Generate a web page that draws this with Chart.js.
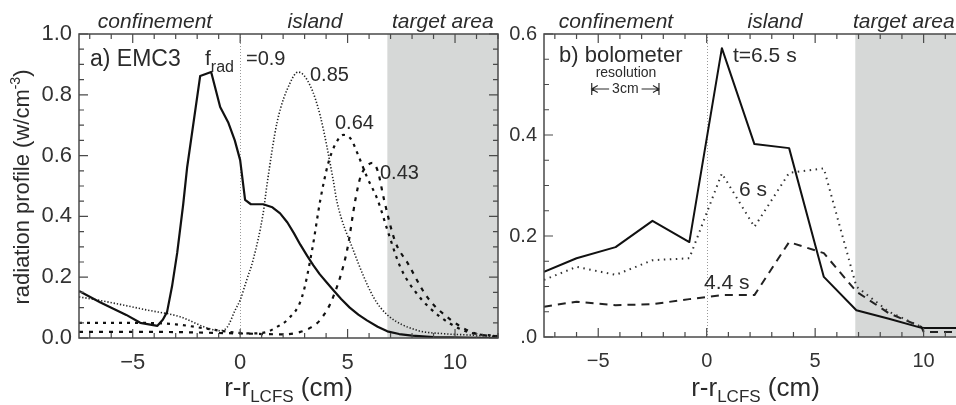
<!DOCTYPE html>
<html>
<head>
<meta charset="utf-8">
<script src="https://cdn.jsdelivr.net/npm/chart.js@4.4.1/dist/chart.umd.min.js"></script>
<style>
  html, body { margin: 0; padding: 0; background: #fff; overflow: hidden; width: 956px; height: 405px; }
  #wrap { position: relative; width: 956px; height: 405px; overflow: hidden; }
  canvas { position: absolute; top: 0; }
  #ca { left: 0; }
  #cb { left: 480px; }
</style>
</head>
<body>
<div id="wrap">
  <canvas id="ca" width="510" height="405"></canvas>
  <canvas id="cb" width="500" height="405"></canvas>
</div>
<script>
// ---- a) EMC3 radiation profiles, one per radiated fraction f_rad ----
const emc090X = [-7.5, -6.5, -5.3, -4.65, -3.85, -3.6, -3.4, -3.17, -2.93, -2.65, -2.47, -1.86, -1.35, -0.93, -0.56, -0.25, 0.0, 0.23, 0.5, 1.07, 1.5, 1.86, 2.2, 2.5, 2.8, 3.12, 3.4, 3.7, 4.0, 4.33, 4.7, 5.1, 5.5, 5.9, 6.4, 6.85, 7.4, 8.0, 9.0, 10.5, 12.0];
const emc090Y = [0.155, 0.117, 0.076, 0.05, 0.04, 0.06, 0.086, 0.17, 0.28, 0.44, 0.56, 0.862, 0.875, 0.76, 0.71, 0.65, 0.585, 0.454, 0.44, 0.44, 0.43, 0.41, 0.38, 0.345, 0.307, 0.27, 0.24, 0.21, 0.185, 0.158, 0.128, 0.1, 0.077, 0.058, 0.037, 0.022, 0.013, 0.008, 0.003, 0.001, 0.0];

const emc085X = [-7.5, -7.13, -5.9, -4.33, -2.8, -1.54, -0.93, -0.6, -0.23, 0.0, 0.3, 0.6, 1.07, 1.24, 1.72, 2.33, 2.7, 3.26, 3.73, 4.33, 4.5, 5.26, 6.2, 6.85, 8.2, 9.5, 10.6, 12.0];
const emc085Y = [0.135, 0.131, 0.115, 0.092, 0.07, 0.033, 0.024, 0.036, 0.092, 0.125, 0.19, 0.256, 0.41, 0.5, 0.71, 0.84, 0.875, 0.83, 0.73, 0.52, 0.45, 0.29, 0.135, 0.076, 0.026, 0.014, 0.01, 0.005];

const emc064X = [-7.5, -5.0, -3.0, -1.5, -0.5, 0.5, 1.24, 1.8, 2.2, 2.88, 3.35, 3.73, 4.1, 4.45, 4.8, 5.15, 5.5, 5.9, 6.4, 6.9, 7.45, 8.2, 9.3, 10.6, 12.0];
const emc064Y = [0.05, 0.05, 0.045, 0.03, 0.02, 0.015, 0.02, 0.04, 0.06, 0.135, 0.29, 0.454, 0.575, 0.64, 0.668, 0.655, 0.6, 0.53, 0.454, 0.345, 0.234, 0.148, 0.07, 0.02, 0.006];

const emc043X = [-7.5, -4.0, 0.0, 2.0, 2.8, 3.3, 3.73, 4.33, 4.98, 5.36, 5.6, 5.9, 6.15, 6.4, 6.7, 7.2, 7.8, 8.7, 9.8, 10.9, 12.0];
const emc043Y = [0.02, 0.02, 0.015, 0.012, 0.02, 0.035, 0.06, 0.135, 0.29, 0.454, 0.53, 0.565, 0.576, 0.55, 0.454, 0.32, 0.246, 0.135, 0.06, 0.016, 0.005];

// ---- b) bolometer profiles at three times (channel positions in cm) ----
const boloX  = [-7.5, -6.0, -4.2, -2.5, -0.8, 0.7, 2.2, 3.8, 5.4, 6.9, 8.4, 9.9, 10.0, 12.0];
const bolo65 = [0.129, 0.156, 0.178, 0.23, 0.188, 0.572, 0.382, 0.374, 0.119, 0.053, 0.036, 0.018, 0.018, 0.018];
const bolo60 = [0.113, 0.139, 0.123, 0.152, 0.156, 0.324, 0.218, 0.325, 0.334, 0.1, 0.05, 0.02, 0.018, 0.018];
const bolo44 = [0.06, 0.07, 0.063, 0.065, 0.075, 0.083, 0.083, 0.188, 0.166, 0.09, 0.047, 0.02, 0.01, 0.01];

// ---- axis ranges, ticks and region names ----
const xRange = [-7.5, 12];
const targetStart = 6.85;
const regionNames = ['confinement', 'island', 'target area'];
const fradLabels = ['0.9', '0.85', '0.64', '0.43'];
const timeLabels = ['t=6.5 s', '6 s', '4.4 s'];

const FONT = "'Liberation Sans', Arial, Helvetica, sans-serif";
Chart.defaults.font.family = FONT;
const INK = '#2b2b2b';

const pts = (xs, ys) => xs.map((x, i) => ({ x: x, y: ys[i] }));
const fmtX = v => (v < 0 ? '\u2212' + Math.abs(v) : String(v));

function line(xs, ys, width, dash, color, smooth) {
  return {
    data: pts(xs, ys),
    borderColor: color || '#111',
    borderWidth: width,
    borderDash: dash || [],
    borderJoinStyle: 'round',
    pointRadius: 0,
    fill: false,
    cubicInterpolationMode: smooth ? 'monotone' : 'default',
    tension: 0
  };
}

function drawParts(ctx, x, y, parts, align) {
  // parts: [{t, size, dy, italic}] drawn on one baseline
  let total = 0;
  parts.forEach(p => {
    ctx.font = (p.italic ? 'italic ' : '') + p.size + 'px ' + FONT;
    p.w = ctx.measureText(p.t).width;
    total += p.w;
  });
  let cx = align === 'center' ? x - total / 2 : x;
  parts.forEach(p => {
    ctx.font = (p.italic ? 'italic ' : '') + p.size + 'px ' + FONT;
    ctx.textAlign = 'left';
    ctx.fillText(p.t, cx, y + (p.dy || 0));
    cx += p.w;
  });
}

function framePlugin(cfg) {
  return {
    id: 'frame',
    beforeDatasetsDraw(chart) {
      const { ctx, chartArea: a, scales: { x } } = chart;
      ctx.save();
      const gx = x.getPixelForValue(targetStart);
      ctx.fillStyle = '#d6d8d7';
      ctx.fillRect(gx, a.top, a.right - gx, a.bottom - a.top);
      const zx = Math.round(x.getPixelForValue(0)) + 0.5;
      ctx.strokeStyle = '#9a9a9a';
      ctx.lineWidth = 1;
      ctx.setLineDash([1, 2]);
      ctx.beginPath();
      ctx.moveTo(zx, a.top);
      ctx.lineTo(zx, a.bottom);
      ctx.stroke();
      ctx.restore();
    },
    afterDatasetsDraw(chart) {
      const { ctx, chartArea: a, scales: { x, y } } = chart;
      ctx.save();
      ctx.strokeStyle = '#4a4a4a';
      ctx.lineWidth = 1.5;
      ctx.setLineDash([]);
      ctx.strokeRect(a.left, a.top, a.right - a.left, a.bottom - a.top);
      ctx.lineWidth = 1.2;
      ctx.beginPath();
      for (let v = Math.ceil(x.min); v <= Math.floor(x.max); v++) {
        const px = x.getPixelForValue(v);
        const len = v % 5 === 0 ? 9 : 5;
        ctx.moveTo(px, a.bottom); ctx.lineTo(px, a.bottom - len);
        ctx.moveTo(px, a.top); ctx.lineTo(px, a.top + len);
      }
      for (let k = 0; k * 0.05 <= y.max + 1e-9; k++) {
        const v = k * 0.05;
        const py = y.getPixelForValue(v);
        const len = k % 4 === 0 ? 9 : 5;
        ctx.moveTo(a.left, py); ctx.lineTo(a.left + len, py);
        ctx.moveTo(a.right, py); ctx.lineTo(a.right - len, py);
      }
      ctx.stroke();
      ctx.restore();
    },
    afterDraw(chart) {
      const { ctx, chartArea: a } = chart;
      ctx.save();
      ctx.fillStyle = INK;
      ctx.textBaseline = 'middle';
      // region names above the frame
      cfg.regions.forEach(r => {
        ctx.font = 'italic 21px ' + FONT;
        ctx.textAlign = r.align;
        ctx.fillText(r.t, r.x, 22);
      });
      // in-plot annotations
      cfg.texts.forEach(t => {
        ctx.font = t.size + 'px ' + FONT;
        ctx.textAlign = t.align || 'left';
        ctx.fillText(t.t, t.x, t.y);
      });
      ctx.textBaseline = 'alphabetic';
      // x-axis title with subscript
      drawParts(ctx, (a.left + a.right) / 2, 396,
        [{ t: 'r-r', size: 26 }, { t: 'LCFS', size: 17, dy: 6 }, { t: ' (cm)', size: 26 }], 'center');
      if (cfg.extra) cfg.extra(ctx, chart);
      ctx.restore();
    }
  };
}

function scalesFor(yMax, yWidth, xHeight, tickSize, yFmt) {
  const tickFont = { family: FONT, size: tickSize };
  return {
    x: {
      type: 'linear', min: xRange[0], max: xRange[1],
      grid: { display: false, drawTicks: false }, border: { display: false },
      ticks: { stepSize: 5, includeBounds: false, padding: 12, color: '#333', font: tickFont, callback: fmtX, maxRotation: 0, autoSkip: false },
      afterFit(s) { s.height = xHeight; }
    },
    y: {
      type: 'linear', min: 0, max: yMax,
      grid: { display: false, drawTicks: false }, border: { display: false },
      ticks: { stepSize: 0.2, includeBounds: false, padding: 7, color: '#333', font: tickFont, callback: yFmt },
      afterFit(s) { s.width = yWidth; }
    }
  };
}

const baseOpts = {
  responsive: false, animation: false, devicePixelRatio: 1, events: [],
  plugins: { legend: { display: false }, tooltip: { enabled: false } }
};

// ---------- panel a ----------
new Chart(document.getElementById('ca'), {
  type: 'line',
  data: {
    datasets: [
      line(emc090X, emc090Y, 2.2, [], '#111', false),
      line(emc085X, emc085Y, 1.6, [1.3, 1.9], '#222', true),
      line(emc064X, emc064Y, 2.2, [3, 5], '#111', true),
      line(emc043X, emc043Y, 2.2, [4, 6], '#111', true)
    ]
  },
  options: Object.assign({}, baseOpts, {
    layout: { padding: { left: 0, right: 12, top: 34, bottom: 0 } },
    scales: scalesFor(1.0, 79, 67, 22, v => v.toFixed(1))
  }),
  plugins: [framePlugin({
    regions: [
      { t: regionNames[0], x: 155, align: 'center' },
      { t: regionNames[1], x: 315, align: 'center' },
      { t: regionNames[2], x: 392, align: 'left' }
    ],
    texts: [
      { t: 'a) EMC3', x: 90, y: 60, size: 23 },
      { t: fradLabels[1], x: 310, y: 75, size: 20 },
      { t: fradLabels[2], x: 335, y: 123, size: 20 },
      { t: fradLabels[3], x: 380, y: 173, size: 20 }
    ],
    extra(ctx) {
      ctx.fillStyle = INK;
      drawParts(ctx, 205, 65, [{ t: 'f', size: 21 }, { t: 'rad', size: 16, dy: 7 }], 'left');
      drawParts(ctx, 246, 65, [{ t: '=' + fradLabels[0], size: 20 }], 'left');
      // rotated y-axis title with superscript
      ctx.save();
      ctx.translate(29, 187);
      ctx.rotate(-Math.PI / 2);
      drawParts(ctx, 0, 0, [{ t: 'radiation profile (w/cm', size: 22 }, { t: '-3', size: 14, dy: -9 }, { t: ')', size: 22 }], 'center');
      ctx.restore();
    }
  })]
});

// ---------- panel b ----------
const OFF = 480;
new Chart(document.getElementById('cb'), {
  type: 'line',
  data: {
    datasets: [
      line(boloX, bolo65, 2, [], '#111', false),
      line(boloX, bolo60, 2, [1.5, 4.5], '#333', false),
      line(boloX, bolo44, 2, [8, 6], '#222', false)
    ]
  },
  options: Object.assign({}, baseOpts, {
    layout: { padding: { left: 0, right: 13, top: 34, bottom: 0 } },
    scales: scalesFor(0.6, 64, 68, 20, v => (v === 0 ? '.0' : v.toFixed(1)))
  }),
  plugins: [framePlugin({
    regions: [
      { t: regionNames[0], x: 616 - OFF, align: 'center' },
      { t: regionNames[1], x: 775 - OFF, align: 'center' },
      { t: regionNames[2], x: 853 - OFF, align: 'left' }
    ],
    texts: [
      { t: 'b) bolometer', x: 559 - OFF, y: 56, size: 22 },
      { t: 'resolution', x: 626 - OFF, y: 73, size: 14, align: 'center' },
      { t: timeLabels[0], x: 733 - OFF, y: 56, size: 21 },
      { t: timeLabels[1], x: 739 - OFF, y: 190, size: 21 },
      { t: timeLabels[2], x: 704 - OFF, y: 283, size: 21 }
    ],
    extra(ctx, chart) {
      // 3 cm resolution bracket, drawn on the x scale
      const x = chart.scales.x;
      const x0 = x.getPixelForValue(-5.3), x1 = x.getPixelForValue(-2.2);
      const yy = 89, mid = (x0 + x1) / 2;
      ctx.font = '14px ' + FONT;
      ctx.textAlign = 'center';
      ctx.textBaseline = 'middle';
      ctx.fillText('3cm', mid, yy);
      const half = ctx.measureText('3cm').width / 2 + 3;
      ctx.strokeStyle = INK;
      ctx.lineWidth = 1.2;
      ctx.beginPath();
      ctx.moveTo(x0, yy - 6); ctx.lineTo(x0, yy + 6);
      ctx.moveTo(x1, yy - 6); ctx.lineTo(x1, yy + 6);
      ctx.moveTo(x0, yy); ctx.lineTo(mid - half, yy);
      ctx.moveTo(mid + half, yy); ctx.lineTo(x1, yy);
      ctx.moveTo(x0 + 6, yy - 3.5); ctx.lineTo(x0, yy); ctx.lineTo(x0 + 6, yy + 3.5);
      ctx.moveTo(x1 - 6, yy - 3.5); ctx.lineTo(x1, yy); ctx.lineTo(x1 - 6, yy + 3.5);
      ctx.stroke();
    }
  })]
});
</script>
</body>
</html>
